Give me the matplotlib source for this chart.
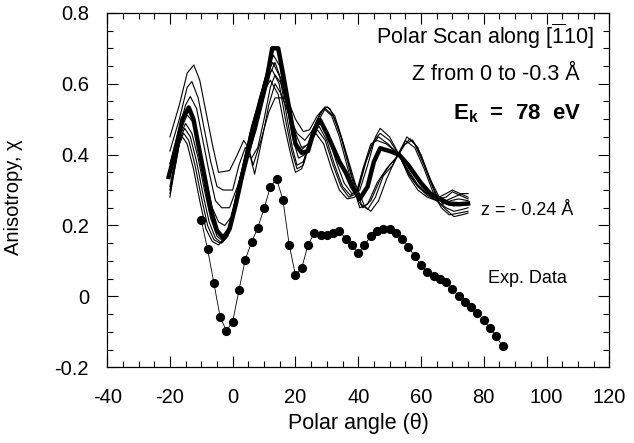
import matplotlib.pyplot as plt
from matplotlib.ticker import MultipleLocator

plt.rcParams['font.family'] = ['Liberation Sans', 'DejaVu Sans']
plt.rcParams['mathtext.fontset'] = 'custom'
plt.rcParams['mathtext.rm'] = 'Liberation Sans'
plt.rcParams['mathtext.bf'] = 'Liberation Sans:bold'
plt.rcParams['axes.unicode_minus'] = False

# Experimental anisotropy (polar scan)
exp_angle = [-10, -8, -6, -4, -2, 0, 2, 4, 6, 8, 10, 12, 14, 16, 18, 20, 22, 24, 26, 28,
             30, 32, 34, 36, 38, 40, 42, 44, 46, 48, 50, 52, 54, 56, 58, 60, 62, 64, 66, 68,
             70, 72, 74, 76, 78, 80, 82, 84, 86]
exp_chi = [0.215, 0.133, 0.038, -0.058, -0.097, -0.071, 0.017, 0.104, 0.152, 0.194,
           0.248, 0.309, 0.331, 0.273, 0.146, 0.060, 0.080, 0.145, 0.179, 0.172,
           0.172, 0.180, 0.184, 0.163, 0.146, 0.121, 0.144, 0.170, 0.185, 0.190,
           0.189, 0.180, 0.163, 0.140, 0.113, 0.088, 0.068, 0.058, 0.050, 0.041,
           0.021, 0.001, -0.016, -0.030, -0.046, -0.068, -0.090, -0.113, -0.141]

# Calculated curve for z = -0.24 A (thick)
calc_x_024 = [-20.4, -18, -16, -14, -12.5, -11, -9, -7, -5, -3, -1, 1, 3, 5, 7, 9, 11, 12.6,
              14.5, 16, 18, 20, 22, 24, 26, 27.8, 30, 32, 34, 36, 38, 40.5, 43, 45, 47, 50,
              53, 56, 60, 63, 66, 69, 72, 75]
calc_y_024 = [0.337, 0.42, 0.50, 0.533, 0.50, 0.43, 0.34, 0.245, 0.185, 0.165, 0.19, 0.26,
              0.34, 0.41, 0.48, 0.55, 0.62, 0.70, 0.70, 0.63, 0.53, 0.43, 0.405, 0.41, 0.47,
              0.498, 0.46, 0.42, 0.38, 0.35, 0.31, 0.275, 0.31, 0.38, 0.418, 0.41, 0.40,
              0.37, 0.32, 0.29, 0.275, 0.262, 0.26, 0.262]

# Other calculated curves, z between 0 and -0.3 A
calc_x = [
    [-20, -17, -14.5, -12.4, -10.5, -8.5, -6.5, -4.5, -1, 1.5, 3.5, 5, 6.5, 9, 11.5, 13.5,
     15.5, 17.5, 20, 22.5, 24.5, 27, 29.5, 31, 33.5, 36, 39, 42, 44, 46.5, 49, 52, 55, 57.3,
     60, 63, 65.8, 68, 70, 72.5, 75],
    [-20, -17, -14.5, -13, -11, -9, -7, -5, -3, 0, 2, 4, 5.5, 7, 9.5, 11.5, 13.5, 15.5, 18,
     20.5, 23, 25.5, 28, 30.2, 32.5, 35, 38, 41, 43, 45.5, 48, 51, 54, 56.5, 59, 62, 65.5,
     68, 70, 72.5, 75],
    [-20, -17.5, -15, -13.5, -11.5, -9.5, -7.5, -5.5, -3.5, -1, 1.5, 4.5, 6, 8, 10, 12, 13.5,
     15.5, 17.5, 20, 22, 24.5, 27, 29.5, 32, 34.5, 37.5, 40, 41.5, 44, 47, 50, 53, 55.5, 58,
     61, 64.5, 67, 69.5, 72, 75],
    [-20, -17.5, -14.5, -12.5, -10.5, -8.5, -6.5, -4.5, -2.5, 0, 2.5, 5, 7.5, 10, 12, 13.5,
     15.5, 17.5, 19.5, 21.5, 24, 26.5, 29, 31.5, 34, 37, 40.5, 43, 46, 49, 52, 55, 58, 61,
     64, 66.5, 69, 72, 75],
    [-20, -18, -16.5, -15, -13, -11, -9, -7, -5, -3, -1, 1, 3, 5, 7, 9, 11, 13, 15, 17, 19,
     21, 23, 25.5, 28, 30.5, 33, 35.5, 38, 40.5, 43, 45.5, 47, 50, 53, 56, 59, 62, 65, 68,
     70.5, 73, 75],
    [-20, -18, -16.5, -15.3, -13.5, -11.5, -9.5, -7.5, -5.5, -3.5, -1.5, 0.5, 2.5, 4.5, 6.5,
     8.5, 10.5, 12.8, 15, 17, 19, 20.5, 22.5, 25, 27.5, 30, 32.5, 35, 37.5, 40, 42.5, 45, 47,
     50, 53, 56, 59, 62, 65, 68, 70.5, 73, 75],
    [-20, -18, -16.8, -15.6, -14, -12, -10, -8, -6, -4, -2, 0, 2, 4, 6, 8, 10, 12.5, 14.8,
     16.8, 18.8, 20.5, 22.5, 24.5, 27, 29.5, 32, 34.5, 37, 39.5, 42, 44.5, 46.5, 49.5, 53, 56,
     59, 62, 65, 68, 70.5, 73, 75],
    [-20, -18.5, -17, -16, -14.5, -12.5, -10.5, -8.5, -6.5, -4.5, -2.5, -0.5, 1.5, 3.5, 5.5,
     7.5, 9.5, 12, 14.5, 16.5, 18.5, 20, 22, 24, 26.5, 29, 31.5, 34, 36.5, 39, 41.5, 44, 46,
     49, 53, 56, 59, 62, 65, 68, 70.5, 73, 75],
]
calc_y = [
    [0.45, 0.54, 0.63, 0.653, 0.61, 0.52, 0.43, 0.35, 0.355, 0.40, 0.44, 0.42, 0.37, 0.44,
     0.52, 0.56, 0.56, 0.555, 0.50, 0.465, 0.47, 0.51, 0.535, 0.53, 0.48, 0.41, 0.32, 0.255,
     0.24, 0.27, 0.33, 0.39, 0.43, 0.441, 0.40, 0.33, 0.28, 0.29, 0.30, 0.29, 0.28],
    [0.41, 0.50, 0.59, 0.606, 0.56, 0.47, 0.38, 0.31, 0.30, 0.30, 0.37, 0.42, 0.40, 0.345,
     0.45, 0.54, 0.60, 0.57, 0.51, 0.46, 0.44, 0.47, 0.52, 0.535, 0.51, 0.44, 0.34, 0.26,
     0.245, 0.28, 0.34, 0.37, 0.42, 0.445, 0.42, 0.35, 0.275, 0.28, 0.295, 0.285, 0.275],
    [0.375, 0.46, 0.54, 0.564, 0.53, 0.44, 0.35, 0.27, 0.25, 0.25, 0.31, 0.40, 0.39, 0.42,
     0.50, 0.59, 0.625, 0.60, 0.53, 0.46, 0.42, 0.43, 0.49, 0.53, 0.51, 0.45, 0.35, 0.27,
     0.25, 0.27, 0.33, 0.37, 0.40, 0.45, 0.43, 0.37, 0.29, 0.26, 0.27, 0.275, 0.27],
    [0.35, 0.45, 0.512, 0.49, 0.42, 0.33, 0.25, 0.21, 0.20, 0.23, 0.31, 0.40, 0.47, 0.56,
     0.63, 0.66, 0.61, 0.53, 0.45, 0.41, 0.43, 0.49, 0.53, 0.51, 0.45, 0.35, 0.25, 0.26,
     0.32, 0.36, 0.39, 0.44, 0.42, 0.36, 0.29, 0.25, 0.23, 0.235, 0.24],
    [0.31, 0.40, 0.46, 0.488, 0.46, 0.39, 0.30, 0.22, 0.17, 0.155, 0.18, 0.25, 0.34, 0.42,
     0.50, 0.57, 0.64, 0.68, 0.65, 0.55, 0.45, 0.39, 0.40, 0.47, 0.49, 0.45, 0.38, 0.32,
     0.29, 0.30, 0.37, 0.45, 0.474, 0.45, 0.40, 0.34, 0.30, 0.28, 0.27, 0.27, 0.28, 0.29, 0.29],
    [0.30, 0.39, 0.45, 0.474, 0.45, 0.38, 0.29, 0.21, 0.165, 0.15, 0.17, 0.24, 0.33, 0.41,
     0.49, 0.56, 0.62, 0.66, 0.62, 0.52, 0.42, 0.37, 0.38, 0.45, 0.48, 0.44, 0.37, 0.31,
     0.285, 0.30, 0.38, 0.44, 0.46, 0.44, 0.40, 0.345, 0.31, 0.29, 0.275, 0.26, 0.255, 0.26, 0.26],
    [0.29, 0.38, 0.44, 0.46, 0.44, 0.37, 0.28, 0.20, 0.16, 0.15, 0.17, 0.23, 0.32, 0.40,
     0.48, 0.54, 0.60, 0.64, 0.60, 0.50, 0.41, 0.36, 0.37, 0.43, 0.47, 0.44, 0.37, 0.31,
     0.28, 0.29, 0.37, 0.43, 0.45, 0.43, 0.40, 0.35, 0.31, 0.285, 0.27, 0.25, 0.24, 0.245, 0.25],
    [0.28, 0.36, 0.43, 0.45, 0.43, 0.36, 0.27, 0.19, 0.155, 0.145, 0.165, 0.22, 0.30, 0.38,
     0.46, 0.52, 0.57, 0.61, 0.57, 0.48, 0.40, 0.35, 0.36, 0.42, 0.46, 0.43, 0.36, 0.30,
     0.275, 0.28, 0.36, 0.43, 0.44, 0.43, 0.40, 0.355, 0.315, 0.29, 0.27, 0.245, 0.225, 0.23, 0.235],
]

fig = plt.figure(figsize=(6.34, 4.43), dpi=100)
ax = fig.add_axes([0.169, 0.171, 0.792, 0.800])

for xs, ys in zip(calc_x, calc_y):
    ax.plot(xs, ys, color='black', lw=0.8)
ax.plot(calc_x_024, calc_y_024, color='black', lw=3.2, solid_joinstyle='round')

ax.plot(exp_angle, exp_chi, color='black', lw=0.6, marker='o', markersize=5.6)

ax.set_xlim(-40, 120)
ax.set_ylim(-0.2, 0.8)
ax.xaxis.set_major_locator(MultipleLocator(20))
ax.xaxis.set_minor_locator(MultipleLocator(5))
ax.yaxis.set_major_locator(MultipleLocator(0.2))
ax.yaxis.set_minor_locator(MultipleLocator(0.05))
ax.yaxis.set_major_formatter(plt.FuncFormatter(lambda v, p: '0' if abs(v) < 1e-9 else f'{v:.1f}'))
ax.tick_params(which='both', direction='in', top=True, right=True, labelsize=14.5, width=0.8)
ax.tick_params(which='major', length=8)
ax.tick_params(axis='x', which='major', pad=15)
ax.tick_params(axis='y', which='major', pad=13)
ax.tick_params(which='minor', length=4)
for s in ax.spines.values():
    s.set_linewidth(0.9)

ax.set_xlabel('Polar angle (\u03b8)', fontsize=15.5)
ax.set_ylabel('Anisotropy, \u03c7', fontsize=14.5)
ax.xaxis.set_label_coords(0.5, -0.13)
ax.yaxis.set_label_coords(-0.168, 0.48)

ax.text(115, 0.735, r'Polar Scan along [$\overline{\mathrm{1}}$10]', fontsize=15.5, ha='right', va='center')
ax.text(110.5, 0.625, 'Z from 0 to -0.3 \u00c5', fontsize=15.5, ha='right', va='center')
ax.text(111, 0.515, r'$\mathbf{E_k}$  =  78  eV', fontsize=16, fontweight='bold', ha='right', va='center')
ax.text(79.2, 0.243, 'z = - 0.24 \u00c5', fontsize=13, ha='left', va='center')
ax.text(81.4, 0.051, 'Exp. Data', fontsize=13, ha='left', va='center')

plt.savefig('out.png', dpi=100)
plt.close()
